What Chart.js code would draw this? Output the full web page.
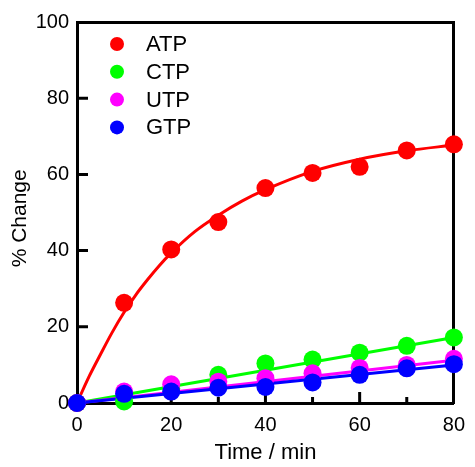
<!DOCTYPE html>
<html>
<head>
<meta charset="utf-8">
<script src="https://cdn.jsdelivr.net/npm/chart.js@4.4.0/dist/chart.umd.min.js"></script>
<style>
  html, body { margin: 0; padding: 0; background: #fff; }
</style>
</head>
<body>
<canvas id="chartNTP" width="475" height="467"></canvas>
<script>
const timePoints = [0, 10, 20, 30, 40, 50, 60, 70, 80];
const atpValues = [0, 26.3, 40.3, 47.5, 56.4, 60.4, 62.0, 66.3, 67.9];
const ctpValues = [0, 0.4, 3.8, 7.4, 10.4, 11.4, 13.2, 15.0, 17.2];
const utpValues = [0, 3.0, 4.9, 5.6, 6.5, 7.8, 9.2, 10.0, 11.6];
const gtpValues = [0, 2.4, 3.0, 4.0, 4.2, 5.4, 7.4, 9.1, 10.2];

// fitted curves
const atpFitTime = [0, 2.5, 5, 7.5, 10, 12.5, 15, 17.5, 20, 25, 30, 35, 40, 50, 60, 70, 80];
const atpFitValues = [0, 6.8, 12.8, 18.6, 23.8, 28.4, 32.4, 36.1, 39.4, 45.0, 49.3, 53.0, 56.0, 60.8, 64.0, 66.2, 67.7];
const lineFitTime = [0, 80];
const ctpFitValues = [0, 17.2];
const utpFitValues = [0, 11.2];
const gtpFitValues = [0, 10.0];

const xTickLabels = [0, 20, 40, 60, 80];
const yTickLabels = [0, 20, 40, 60, 80, 100];

const seriesNames = ['ATP', 'CTP', 'UTP', 'GTP'];
const seriesColors = ['#ff0000', '#00ff00', '#ff00ff', '#0000ff'];

const fontFamily = "'Liberation Sans', Arial, sans-serif";

const toXY = (xs, ys) => xs.map((x, i) => ({ x: x, y: ys[i] }));

const pointSets = [atpValues, ctpValues, utpValues, gtpValues];
const fitSets = [
  toXY(atpFitTime, atpFitValues),
  toXY(lineFitTime, ctpFitValues),
  toXY(lineFitTime, utpFitValues),
  toXY(lineFitTime, gtpFitValues)
];

let datasets = [];
// fit lines, under the markers
fitSets.forEach((d, i) => {
  datasets.push({
    type: 'line',
    label: seriesNames[i] + ' fit',
    data: d,
    borderColor: seriesColors[i],
    borderWidth: 3,
    pointRadius: 0,
    fill: false,
    cubicInterpolationMode: 'monotone',
    clip: false,
    order: 10 + (3 - i),
    isFit: true
  });
});
// markers, GTP on top
pointSets.forEach((vals, i) => {
  datasets.push({
    type: 'scatter',
    label: seriesNames[i],
    data: toXY(timePoints, vals),
    backgroundColor: seriesColors[i],
    borderWidth: 0,
    pointRadius: 9,
    clip: false,
    order: 3 - i,
    isFit: false
  });
});

// inward tick marks
const innerTicks = {
  id: 'innerTicks',
  beforeDatasetsDraw(chart) {
    const ctx = chart.ctx;
    const area = chart.chartArea;
    const xs = chart.scales.x;
    const ys = chart.scales.y;
    ctx.save();
    ctx.strokeStyle = '#000';
    ctx.lineWidth = 3;
    ctx.beginPath();
    for (let t = 10; t < 80; t += 10) {
      const px = xs.getPixelForValue(t);
      const len = (t % 20 === 0) ? 11 : 6;
      ctx.moveTo(px, area.bottom);
      ctx.lineTo(px, area.bottom - len);
    }
    for (let v = 20; v < 100; v += 20) {
      const py = ys.getPixelForValue(v);
      ctx.moveTo(area.left, py);
      ctx.lineTo(area.left + 11, py);
    }
    ctx.stroke();
    ctx.restore();
  }
};

// legend inside the plot
const innerLegend = {
  id: 'innerLegend',
  afterDraw(chart) {
    const ctx = chart.ctx;
    const area = chart.chartArea;
    ctx.save();
    ctx.font = '22px ' + fontFamily;
    ctx.textBaseline = 'middle';
    ctx.textAlign = 'left';
    chart.data.datasets.filter(d => !d.isFit).forEach((d, i) => {
      const cy = area.top + 22 + i * 27.8;
      ctx.fillStyle = d.backgroundColor;
      ctx.beginPath();
      ctx.arc(area.left + 40, cy, 7, 0, Math.PI * 2);
      ctx.fill();
      ctx.fillStyle = '#000';
      ctx.fillText(d.label, area.left + 69, cy + 1);
    });
    ctx.restore();
  }
};

const axisBase = {
  type: 'linear',
  grid: { display: false, drawTicks: false },
  border: { display: true, width: 3, color: '#000' }
};

new Chart(document.getElementById('chartNTP'), {
  data: { datasets: datasets },
  options: {
    responsive: false,
    animation: false,
    events: [],
    layout: { padding: 0 },
    plugins: { legend: { display: false }, tooltip: { enabled: false } },
    scales: {
      x: Object.assign({}, axisBase, {
        position: 'bottom',
        min: 0, max: 80,
        afterBuildTicks(s) { s.ticks = xTickLabels.map(v => ({ value: v })); },
        ticks: { color: '#000', font: { family: fontFamily, size: 20 }, padding: 10, maxRotation: 0 },
        title: { display: true, text: 'Time / min', color: '#000', font: { family: fontFamily, size: 22 }, padding: { top: 0, bottom: 1 } },
        afterFit(s) { s.height = 64; }
      }),
      y: Object.assign({}, axisBase, {
        position: 'left',
        min: 0, max: 100,
        afterBuildTicks(s) { s.ticks = yTickLabels.map(v => ({ value: v })); },
        ticks: { color: '#000', font: { family: fontFamily, size: 20 }, padding: 8 },
        title: { display: true, text: '% Change  ', color: '#000', font: { family: fontFamily, size: 21 }, padding: { top: 8, bottom: 0 } },
        afterFit(s) { s.width = 77; }
      }),
      x2: Object.assign({}, axisBase, {
        position: 'top',
        min: 0, max: 80,
        ticks: { display: false },
        afterFit(s) { s.height = 22; }
      }),
      y2: Object.assign({}, axisBase, {
        position: 'right',
        min: 0, max: 100,
        ticks: { display: false },
        afterFit(s) { s.width = 14; }
      })
    }
  },
  plugins: [innerTicks, innerLegend]
});
</script>
</body>
</html>
